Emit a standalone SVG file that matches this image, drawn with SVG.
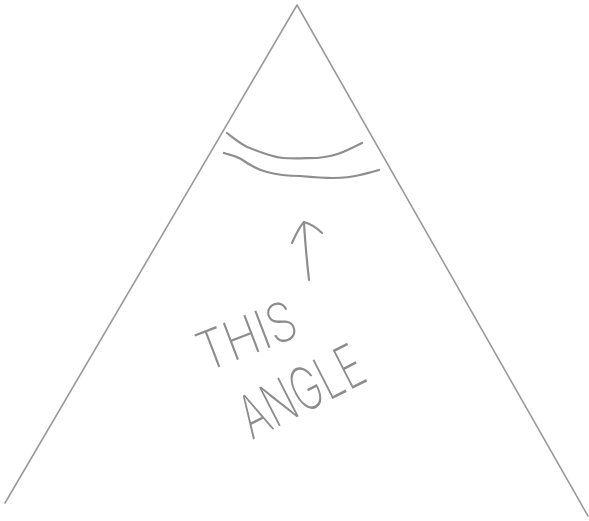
<svg xmlns="http://www.w3.org/2000/svg" width="589" height="521" viewBox="0 0 589 521">
  <style>
    .pencil { fill: none; stroke: #9a9a9a; stroke-linecap: round; stroke-linejoin: round; }
    .line { stroke-width: 1.6; }
    .arc { stroke-width: 2.2; stroke: #8e8e8e; }
    .hand { font-family: Inter, "Liberation Sans", sans-serif; font-weight: 200; fill: #8c8c8c; }
  </style>
  <rect width="589" height="521" fill="#ffffff"/>
  <g id="triangle">
    <path class="pencil line" d="M5,503 L297,5 L588,516"/>
  </g>
  <g id="angle-arcs">
    <path class="pencil arc" d="M227,133 C236,140 243,146 250,148 C262,153 272,157 283,158 C295,159 306,158 317,158 C327,157 336,155 343,152 C350,149 356,146 362,143"/>
    <path class="pencil arc" d="M224,153 C230,155 236,156 241,159 C251,166 259,170 267,172 C278,175 289,176 300,176 C311,177 322,178 333,178 C343,178 352,177 360,175 C367,173 373,172 379,170"/>
  </g>
  <g id="connectors">
    <path class="pencil arc" d="M309,280 C307,262 305,242 304,222"/>
    <path class="pencil arc" d="M292,243 C296,234 300,226 304,222 C311,224 317,228 322,233"/>
  </g>
  <g id="label">
    <text class="hand" x="0" y="0" font-size="54" textLength="102" lengthAdjust="spacingAndGlyphs" transform="translate(206,372) rotate(-21)">THIS</text>
    <text class="hand" x="0" y="0" font-size="60" textLength="132" lengthAdjust="spacingAndGlyphs" transform="translate(252,440) rotate(-27)">ANGLE</text>
  </g>
</svg>
